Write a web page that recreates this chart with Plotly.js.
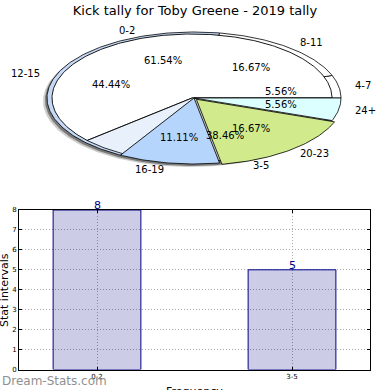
<!DOCTYPE html>
<html><head><meta charset="utf-8">
<script src="https://cdn.plot.ly/plotly-3.0.1.min.js"></script>
<style>html,body{margin:0;padding:0;background:#fff}#chart{width:390px;height:390px}</style>
</head><body><div id="chart"></div>
<script>
// ---- data ----
const innerLabels = ['0-2', '3-5'];
const innerValues = [8, 5];
const outerLabels = ['4-7', '8-11', '12-15', '16-19', '20-23', '24+'];
const outerValues = [1, 3, 8, 2, 3, 1];
const barCategories = ['0-2', '3-5'];
const barValues = [8, 5];
const yTickValues = [0, 1, 2, 3, 4, 5, 6, 7, 8];

// ---- styles ----
const outerColors = ['#ffffff', '#ffffff', '#c5d9f6', '#b5d5fc', '#d0ea8c', '#dcffff'];
const FONT = 'DejaVu Sans, sans-serif';
const P1 = {cx: 192, cy: 98, rx: 140, ry: 64};   // inner (top) pie
const P2 = {cx: 194, cy: 98, rx: 147, ry: 66};   // outer (bottom) pie

function angles(vals) {
  const tot = vals.reduce((a, b) => a + b, 0);
  let a = 0; const out = [];
  vals.forEach(v => { const s = v / tot * 360; out.push([a, a + s, v / tot]); a += s; });
  return out;
}
function wedge(g, a0, a1, explode) {
  const mid = (a0 + a1) / 2 * Math.PI / 180;
  const dx = explode * g.rx * Math.cos(mid), dy = -explode * g.ry * Math.sin(mid);
  const xs = [g.cx + dx], ys = [g.cy + dy];
  const n = Math.max(2, Math.ceil(a1 - a0));
  for (let i = 0; i <= n; i++) {
    const t = (a0 + (a1 - a0) * i / n) * Math.PI / 180;
    xs.push(g.cx + dx + g.rx * Math.cos(t)); ys.push(g.cy + dy - g.ry * Math.sin(t));
  }
  xs.push(g.cx + dx); ys.push(g.cy + dy);
  return {x: xs, y: ys};
}
function poly(pts, fill, lw, lc) {
  return {type: 'scatter', mode: 'lines', x: pts.x, y: pts.y, fill: 'toself', fillcolor: fill,
    line: {color: lc || '#000', width: lw}, xaxis: 'x2', yaxis: 'y2', hoverinfo: 'skip', showlegend: false};
}

const traces = [];
const annotations = [];
// shadow
traces.push(poly(wedge({cx: P2.cx - 4, cy: P2.cy + 3, rx: P2.rx, ry: P2.ry}, 0, 360, 0), 'rgba(0,0,0,0.2)', 0, 'rgba(0,0,0,0)'));
traces.push(poly(wedge({cx: P2.cx - 2, cy: P2.cy + 2, rx: P2.rx, ry: P2.ry}, 0, 360, 0), 'rgba(0,0,0,0.4)', 0, 'rgba(0,0,0,0)'));

const outerA = angles(outerValues);
const innerA = angles(innerValues);
// outer pie, lower layer
outerA.forEach((a, i) => { if (i < 3) traces.push(poly(wedge(P2, a[0], a[1], 0), outerColors[i], 0.8)); });
// inner pie
traces.push(poly(wedge(P1, innerA[0][0], innerA[0][1], 0), '#ffffff', 0.9));
traces.push(poly(wedge(P1, innerA[1][0], innerA[1][1], 0), 'rgba(255,255,255,0.6)', 0.8));
// outer pie, upper layer
const explodes = [0, 0, 0, 0.0, 0.025, 0.0];
outerA.forEach((a, i) => { if (i >= 3) traces.push(poly(wedge(P2, a[0], a[1], explodes[i]), outerColors[i], 0.8)); });

function pieTexts(g, A, labels) {
  A.forEach((a, i) => {
    const m = (a[0] + a[1]) / 2 * Math.PI / 180;
    const c = Math.cos(m), s = Math.sin(m);
    annotations.push({xref: 'x2', yref: 'y2', x: g.cx + 1.1 * g.rx * c, y: g.cy - 1.1 * g.ry * s,
      text: labels[i], showarrow: false, xanchor: c >= 0 ? 'left' : 'right', yanchor: 'middle',
      font: {family: FONT, size: 10, color: '#000'}});
    annotations.push({xref: 'x2', yref: 'y2', x: g.cx + 0.6 * g.rx * c, y: g.cy - 0.6 * g.ry * s,
      text: (a[2] * 100).toFixed(2) + '%', showarrow: false, xanchor: 'center', yanchor: 'middle',
      font: {family: FONT, size: 10, color: '#000'}});
  });
}
pieTexts(P2, outerA, outerLabels);
pieTexts({cx: 194, cy: 98, rx: 147, ry: 66}, innerA, innerLabels);

// bar chart
traces.push({type: 'bar', x: barCategories, y: barValues, width: 0.45,
  marker: {color: 'rgba(0,0,128,0.2)', line: {color: '#00008b', width: 1}},
  hoverinfo: 'skip', showlegend: false, xaxis: 'x', yaxis: 'y'});
barCategories.forEach((c, i) => annotations.push({xref: 'x', yref: 'y', x: c, y: barValues[i],
  text: String(barValues[i]), showarrow: false, yanchor: 'bottom', yshift: -4,
  font: {family: FONT, size: 11, color: '#00008b'}}));

annotations.push({xref: 'paper', yref: 'paper', x: 4 / 390, y: 1 - 290 / 390, text: 'Stat intervals',
  textangle: -90, showarrow: false, xanchor: 'center', yanchor: 'middle', font: {family: FONT, size: 11, color: '#000'}});
annotations.push({xref: 'paper', yref: 'paper', x: 194 / 390, y: 1 - 391 / 390, text: 'Frequency',
  showarrow: false, xanchor: 'center', yanchor: 'middle', font: {family: FONT, size: 11, color: '#000'}});
annotations.push({xref: 'paper', yref: 'paper', x: 0, y: 1 - 381 / 390, text: 'Dream-Stats.com',
  showarrow: false, xanchor: 'left', yanchor: 'middle', font: {family: FONT, size: 12, color: '#909090'}});

const grid = {showgrid: true, gridcolor: '#a8a8a8', griddash: '1px,2px', gridwidth: 1};
const layout = {
  width: 390, height: 390, margin: {l: 0, r: 0, t: 0, b: 0},
  paper_bgcolor: '#fff', plot_bgcolor: '#fff',
  title: {text: 'Kick tally for Toby Greene - 2019 tally', x: 0.5, xanchor: 'center', y: 1 - 10 / 390, yanchor: 'middle',
    font: {family: FONT, size: 13, color: '#000'}},
  xaxis: Object.assign({domain: [19 / 390, 370 / 390], range: [-0.4, 1.4], type: 'category', showline: true, linecolor: '#000', linewidth: 1,
    mirror: 'allticks', ticks: 'inside', ticklen: 3, tickcolor: '#000',
    tickfont: {family: FONT, size: 7, color: '#000'}, zeroline: false, fixedrange: true}, grid),
  yaxis: Object.assign({domain: [1 - 369.5 / 390, 1 - 210 / 390], range: [0, 8], tickvals: yTickValues, showline: true, linecolor: '#000', linewidth: 1,
    mirror: 'allticks', ticks: 'inside', ticklen: 3, tickcolor: '#000',
    tickfont: {family: FONT, size: 7, color: '#000'}, zeroline: false, fixedrange: true}, grid),
  xaxis2: {domain: [0, 1], range: [0, 390], visible: false, fixedrange: true},
  yaxis2: {domain: [1 - 190 / 390, 1], range: [190, 0], visible: false, fixedrange: true},
  annotations: annotations
};
Plotly.newPlot('chart', traces, layout, {staticPlot: true, displayModeBar: false});
</script></body></html>
